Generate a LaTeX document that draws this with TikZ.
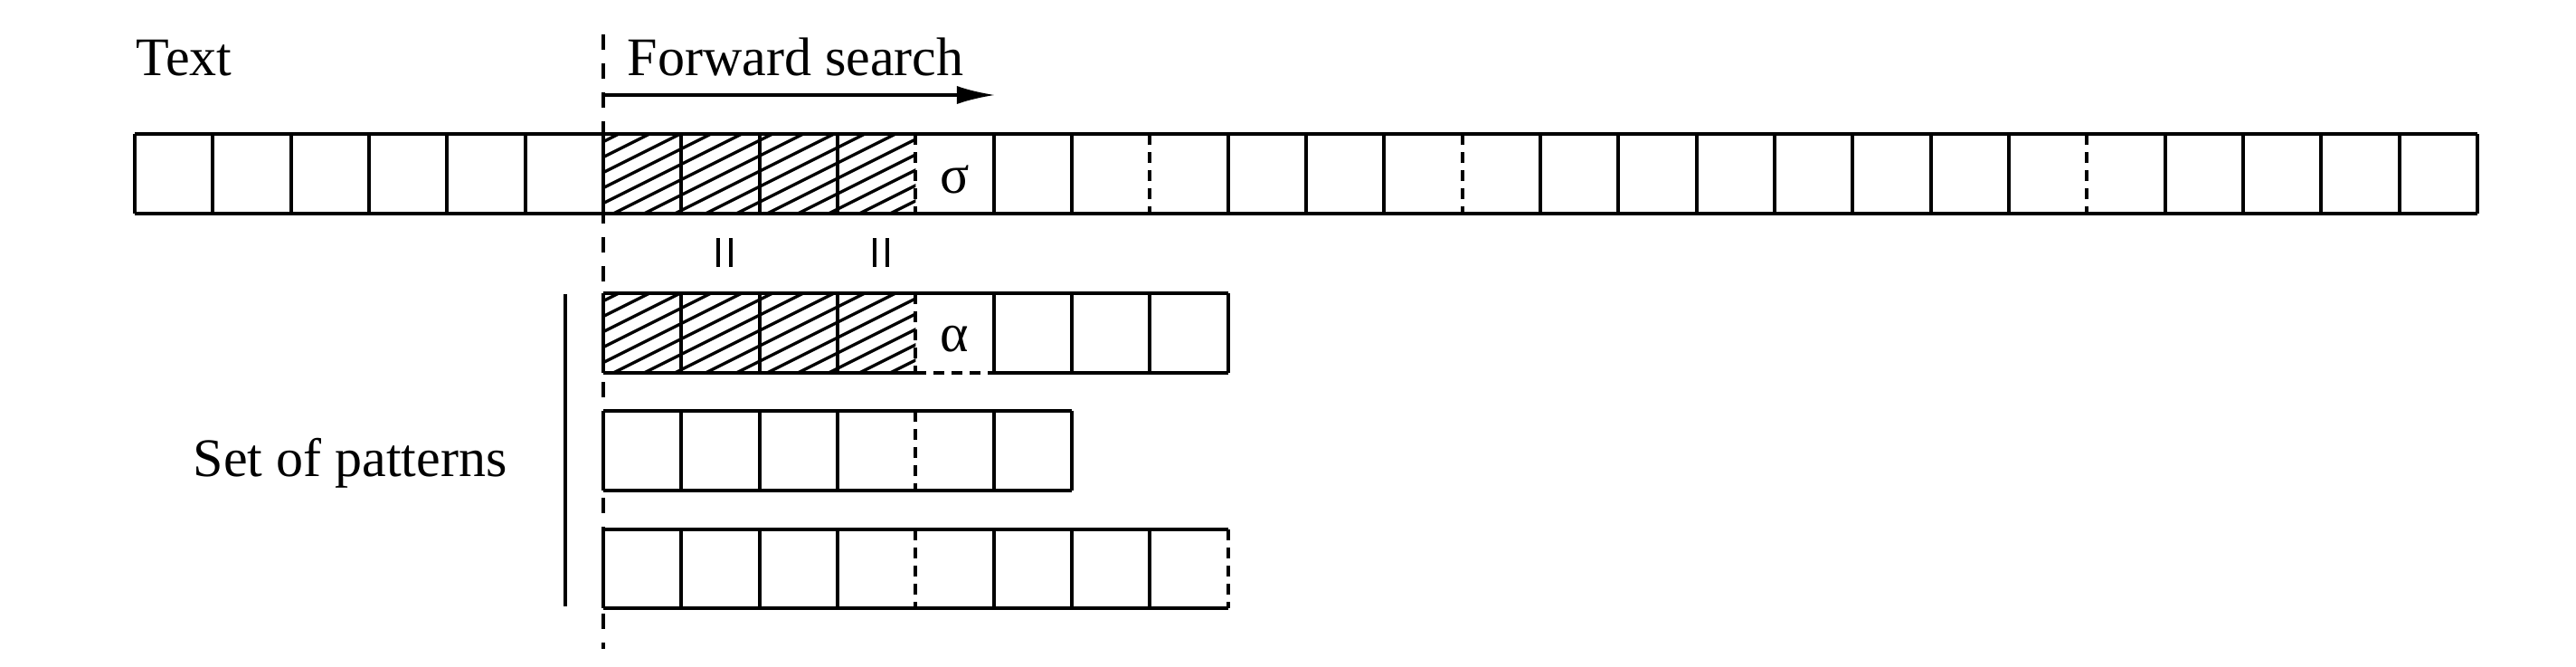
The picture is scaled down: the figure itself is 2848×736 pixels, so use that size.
\documentclass[tikz,border=0pt]{standalone}
\usepackage{fontspec}
\setmainfont{Liberation Serif}
\usetikzlibrary{arrows.meta}
\begin{document}
\begin{tikzpicture}[x=0.01cm,y=-0.01cm,
  cellline/.style={line width=1.1pt},
  dashline/.style={line width=1.1pt, dash pattern=on 0.12cm off 0.08cm},
  hatchline/.style={line width=0.95pt},
  guide/.style={line width=1pt, dash pattern=on 0.17cm off 0.15cm},
  eqbar/.style={line width=1.2pt},
  lbl/.style={inner sep=0pt, font=\fontsize{17.07pt}{20pt}\selectfont},
]
\useasboundingbox (0,0) rectangle (2848,736);
\def\cw{86.33}
\def\xo{149}

% ---------- hatching ----------
\begin{scope}
  \clip (\xo+6*\cw,148) rectangle (\xo+10*\cw,236);
  \foreach \k in {-14,...,16} \draw[hatchline] (650,165+17*\k) -- (1030,165+17*\k-190);
\end{scope}
\begin{scope}
  \clip (\xo+6*\cw,324) rectangle (\xo+10*\cw,412);
  \foreach \k in {-14,...,16} \draw[hatchline] (650,341+17*\k) -- (1030,341+17*\k-190);
\end{scope}

% ---------- text row (30 cells) ----------
\draw[cellline] (\xo,148) -- (\xo+30*\cw,148);
\draw[cellline] (\xo,236) -- (\xo+30*\cw,236);
\draw[cellline] (\xo,148) -- (\xo,236);
\draw[cellline] (\xo+30*\cw,148) -- (\xo+30*\cw,236);
\foreach \i in {1,...,9,11,12,14,15,16,18,19,20,21,22,23,24,26,27,28,29}
  \draw[cellline] (\xo+\i*\cw,148) -- (\xo+\i*\cw,236);
\foreach \i in {10,13,17,25}
  \draw[dashline] (\xo+\i*\cw,148) -- (\xo+\i*\cw,236);

% ---------- pattern row 1 (8 cells) ----------
\draw[cellline] (\xo+6*\cw,324) -- (\xo+14*\cw,324);
\draw[cellline] (\xo+6*\cw,412) -- (\xo+10*\cw,412);
\draw[dashline] (\xo+10*\cw,412) -- (\xo+11*\cw,412);
\draw[cellline] (\xo+11*\cw,412) -- (\xo+14*\cw,412);
\foreach \i in {6,7,8,9,11,12,13,14}
  \draw[cellline] (\xo+\i*\cw,324) -- (\xo+\i*\cw,412);
\draw[dashline] (\xo+10*\cw,324) -- (\xo+10*\cw,412);

% ---------- pattern row 2 (6 cells) ----------
\draw[cellline] (\xo+6*\cw,454) -- (\xo+12*\cw,454);
\draw[cellline] (\xo+6*\cw,542) -- (\xo+12*\cw,542);
\foreach \i in {6,7,8,9,11,12}
  \draw[cellline] (\xo+\i*\cw,454) -- (\xo+\i*\cw,542);
\draw[dashline] (\xo+10*\cw,454) -- (\xo+10*\cw,542);

% ---------- pattern row 3 (8 cells) ----------
\draw[cellline] (\xo+6*\cw,585) -- (\xo+14*\cw,585);
\draw[cellline] (\xo+6*\cw,672) -- (\xo+14*\cw,672);
\foreach \i in {6,7,8,9,11,12,13}
  \draw[cellline] (\xo+\i*\cw,585) -- (\xo+\i*\cw,672);
\foreach \i in {10,14}
  \draw[dashline] (\xo+\i*\cw,585) -- (\xo+\i*\cw,672);

% ---------- guide line and bracket ----------
\coordinate (g0) at (667,38);
\coordinate (g1) at (667,717);
\draw[guide] (g0) -- (g1);
\coordinate (b0) at (625,325);
\coordinate (b1) at (625,670);
\draw[cellline] (b0) -- (b1);

% ---------- forward search arrow ----------
\coordinate (a0) at (668,105);
\coordinate (a1) at (1100,105);
\draw[line width=0.9pt, -{Latex[length=0.42cm, width=0.2cm]}] (a0) -- (a1);

% ---------- vertical equality marks ----------
\coordinate (e1a) at (794,263); \coordinate (e1b) at (794,295);
\coordinate (e1c) at (808,263); \coordinate (e1d) at (808,295);
\coordinate (e2a) at (967,263); \coordinate (e2b) at (967,295);
\coordinate (e2c) at (981,263); \coordinate (e2d) at (981,295);
\draw[eqbar] (e1a) -- (e1b);
\draw[eqbar] (e1c) -- (e1d);
\draw[eqbar] (e2a) -- (e2b);
\draw[eqbar] (e2c) -- (e2d);

% ---------- labels ----------
\node[lbl, anchor=base west] (txt) at (150,83) {Text};
\node[lbl, anchor=base west] (fwd) at (693,83) {Forward search};
\node[lbl, anchor=base west] (sop) at (213,526) {Set of patterns};
\node[lbl, anchor=base] (sigma) at (\xo+10.5*\cw,213) {σ};
\node[lbl, anchor=base] (alpha) at (\xo+10.5*\cw,388) {α};
\end{tikzpicture}
\end{document}
